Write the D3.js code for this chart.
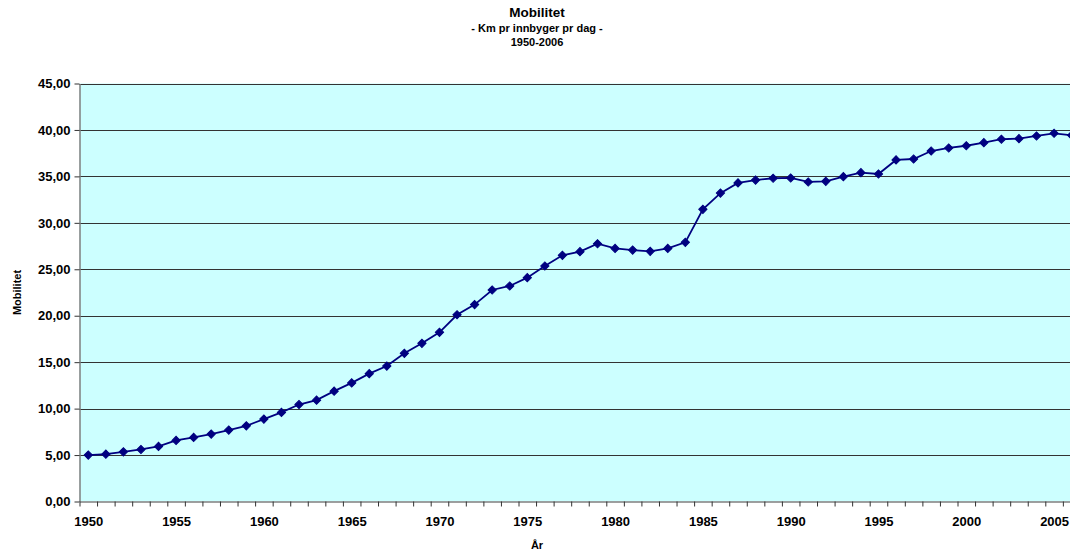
<!DOCTYPE html>
<html>
<head>
<meta charset="utf-8">
<script src="https://cdn.jsdelivr.net/npm/d3@7"></script>
<style>
  html, body { margin: 0; padding: 0; background: #ffffff; }
  svg { display: block; font-family: "Liberation Sans", Arial, sans-serif; }
</style>
</head>
<body>
<svg id="chart" width="1070" height="551"></svg>
<script>
const years = d3.range(1950, 2007);
const mobilitet = [
  5.00, 5.10, 5.35, 5.60, 5.93, 6.58, 6.90, 7.26, 7.69, 8.15,
  8.87, 9.59, 10.44, 10.91, 11.88, 12.77, 13.76, 14.58, 15.95, 17.03,
  18.21, 20.10, 21.20, 22.77, 23.20, 24.10, 25.35, 26.50, 26.90, 27.75,
  27.25, 27.07, 26.93, 27.25, 27.90, 31.45, 33.20, 34.30, 34.60, 34.80,
  34.83, 34.40, 34.47, 34.97, 35.40, 35.26, 36.77, 36.87, 37.73, 38.06,
  38.30, 38.63, 39.00, 39.06, 39.35, 39.64, 39.43
];
const yTicks = [0, 5, 10, 15, 20, 25, 30, 35, 40, 45];
const xLabelYears = [1950, 1955, 1960, 1965, 1970, 1975, 1980, 1985, 1990, 1995, 2000, 2005];
const titleLines = ["Mobilitet", "- Km pr innbyger pr dag -", "1950-2006"];
const yTitle = "Mobilitet";
const xTitle = "År";

const svg = d3.select("#chart");
const plot = { left: 79.5, top: 83.5, bottom: 501.5 };
const step = 17.56;
plot.right = plot.left + years.length * step;

const x = d3.scaleLinear()
  .domain([years[0] - 0.5, years[years.length - 1] + 0.5])
  .range([plot.left, plot.right]);
const y = d3.scaleLinear().domain([0, 45]).range([plot.bottom, plot.top]);

// plot background
svg.append("rect")
  .attr("x", plot.left).attr("y", plot.top)
  .attr("width", plot.right - plot.left).attr("height", plot.bottom - plot.top)
  .attr("fill", "#ccffff");

// gridlines
svg.append("g").selectAll("line")
  .data(yTicks.filter(d => d > 0))
  .join("line")
  .attr("x1", plot.left).attr("x2", plot.right)
  .attr("y1", d => Math.round(y(d)) + 0.5).attr("y2", d => Math.round(y(d)) + 0.5)
  .attr("stroke", "#333333").attr("stroke-width", 1);

// y axis
const yAxis = svg.append("g")
  .attr("transform", `translate(${plot.left},0)`)
  .call(d3.axisLeft(y).tickValues(yTicks).tickSize(5).tickSizeOuter(0)
    .tickFormat(d => d3.format(".2f")(d).replace(".", ",")));
yAxis.select(".domain").attr("stroke", "#7f7f7f").attr("stroke-width", 1.5);
yAxis.selectAll(".tick line").attr("stroke", "#333333");
yAxis.selectAll(".tick text")
  .attr("font-size", "13px").attr("font-weight", "bold").attr("fill", "#000")
  .attr("x", -9).attr("font-family", "Liberation Sans, Arial, sans-serif");

// x axis: tick marks at category boundaries
const bounds = d3.range(years[0] - 0.5, years[years.length - 1] + 1, 1);
const xAxisTicks = svg.append("g")
  .attr("transform", `translate(0,${plot.bottom})`)
  .call(d3.axisBottom(x).tickValues(bounds).tickSize(5).tickSizeOuter(0).tickFormat(""));
xAxisTicks.select(".domain").attr("stroke", "#7f7f7f").attr("stroke-width", 1.5);
xAxisTicks.selectAll(".tick line").attr("stroke", "#333333");

// x axis labels at category centres
const xAxisLabels = svg.append("g")
  .attr("transform", `translate(0,${plot.bottom})`)
  .call(d3.axisBottom(x).tickValues(xLabelYears).tickSize(0).tickFormat(d3.format("d")));
xAxisLabels.select(".domain").remove();
xAxisLabels.selectAll(".tick text")
  .attr("font-size", "13px").attr("font-weight", "bold").attr("fill", "#000")
  .attr("y", 15).attr("font-family", "Liberation Sans, Arial, sans-serif");

// line
const line = d3.line()
  .x((d, i) => x(years[i]))
  .y(d => y(d));
svg.append("path")
  .datum(mobilitet)
  .attr("d", line)
  .attr("fill", "none")
  .attr("stroke", "#000080")
  .attr("stroke-width", 1.8);

// diamond markers
const diamond = d3.symbol().type(d3.symbolSquare).size(34);
svg.append("g").selectAll("path")
  .data(mobilitet)
  .join("path")
  .attr("d", diamond)
  .attr("transform", (d, i) => `translate(${x(years[i])},${y(d)}) rotate(45)`)
  .attr("fill", "#000080")
  .attr("stroke", "#000080")
  .attr("stroke-width", 1);

// titles
const titleSizes = [13.5, 11, 11];
const titleY = [17, 32, 46];
svg.append("g").selectAll("text")
  .data(titleLines)
  .join("text")
  .attr("x", 537).attr("y", (d, i) => titleY[i])
  .attr("text-anchor", "middle")
  .attr("font-weight", "bold")
  .attr("font-size", (d, i) => titleSizes[i] + "px")
  .text(d => d);

svg.append("text")
  .attr("transform", `translate(21,${(plot.top + plot.bottom) / 2}) rotate(-90)`)
  .attr("text-anchor", "middle")
  .attr("font-weight", "bold").attr("font-size", "11px")
  .text(yTitle);

svg.append("text")
  .attr("x", 537).attr("y", 549)
  .attr("text-anchor", "middle")
  .attr("font-weight", "bold").attr("font-size", "11px")
  .text(xTitle);
</script>
</body>
</html>
